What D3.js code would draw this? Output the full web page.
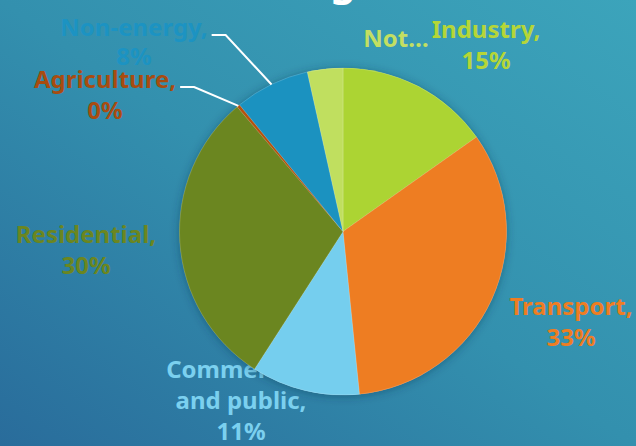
<!DOCTYPE html>
<html><head><meta charset="utf-8">
<script src="https://cdn.jsdelivr.net/npm/d3@7"></script>
<style>html,body{margin:0;padding:0;overflow:hidden;background:#3088ab}</style>
</head><body><svg id="c" width="636" height="446"></svg>
<script>
const categories = ["Industry", "Transport", "Commercial and public", "Residential", "Agriculture", "Non-energy", "Not elsewhere specified"];
const values = [15.2, 33.2, 10.7, 29.7, 0.3, 7.4, 3.5];
const labelLines = [["Industry,","15%"],["Transport,","33%"],["Commercial,","and public,","11%"],["Residential,","30%"],["Agriculture,","0%"],["Non-energy,","8%"],["Not…"]];
const sliceColors = ["#acd433","#ee7d22","#75ceee","#6b8620","#b5520e","#1b92c0","#c0df5f"];
const labelColors = ["#b5d637","#ee7d22","#7bd0ef","#6b8620","#a84c10","#1c93c2","#c3df62"];
// label layout (anchor centre, first baseline, line step)
const labelPos = [[486,38,31],[571,315,31],[241,378,31],[86,243,31],[105,88,31],[134,36,29],[396,47,31]];
const leaders = [false,false,false,false,true,true,false];

const W=636,H=446,cx=343,cy=231.5,R=163.5;
const svg=d3.select("#c");
const defs=svg.append("defs");
const g=defs.append("linearGradient").attr("id","bg").attr("x1","0").attr("y1","1").attr("x2","1").attr("y2","0");
g.append("stop").attr("offset","0").attr("stop-color","#296c9b");
g.append("stop").attr("offset","0.5").attr("stop-color","#3390ae");
g.append("stop").attr("offset","1").attr("stop-color","#3ca4bb");
const f=defs.append("filter").attr("id","sh").attr("x","-20%").attr("y","-20%").attr("width","140%").attr("height","140%");
f.append("feDropShadow").attr("dx",0).attr("dy",1).attr("stdDeviation",5).attr("flood-color","#0b3550").attr("flood-opacity",0.45);
svg.append("rect").attr("width",W).attr("height",H).attr("fill","url(#bg)");

// title fragment (cut off at top in the original)
svg.append("text").attr("x",343).attr("y",-4).attr("text-anchor","middle")
  .attr("font-family","Noto Sans").attr("font-weight",700).attr("font-size",40).attr("fill","#fff").text("g");

const font="Noto Sans";
// labels (under the pie)
const lab=svg.append("g").attr("font-family",font).attr("font-weight",700).attr("font-size",24).attr("text-anchor","middle");
const labelNodes=[];
labelLines.forEach((lines,i)=>{
  const t=lab.append("text").attr("fill",labelColors[i]);
  lines.forEach((s,j)=>t.append("tspan").attr("x",labelPos[i][0]).attr("y",labelPos[i][1]+j*labelPos[i][2]).text(s));
  labelNodes.push(t);
});

const pie=d3.pie().sort(null).value(d=>d);
const arcs=pie(values);
const arc=d3.arc().innerRadius(0).outerRadius(R);
const pg=svg.append("g").attr("transform",`translate(${cx},${cy})`);
pg.append("g").attr("filter","url(#sh)").selectAll("path").data(arcs).join("path")
  .attr("d",arc).attr("fill",(d,i)=>sliceColors[i]);
pg.append("g").selectAll("path").data(arcs).join("path")
  .attr("d",arc).attr("fill",(d,i)=>sliceColors[i]).attr("stroke","rgba(255,255,255,0.25)").attr("stroke-width",0.7);

// leader lines
arcs.forEach((d,i)=>{
  if(!leaders[i]) return;
  const a=(d.startAngle+d.endAngle)/2;
  const ex=cx+R*Math.sin(a), ey=cy-R*Math.cos(a);
  const tspan=labelNodes[i].select("tspan").node();
  const bb=tspan.getBBox();
  const sx=bb.x+bb.width+4, sy=labelPos[i][1]-1;
  svg.append("path").attr("d",`M${sx},${sy}L${sx+14},${sy}L${ex},${ey}`)
    .attr("fill","none").attr("stroke","#fff").attr("stroke-width",2);
});
</script></body></html>
